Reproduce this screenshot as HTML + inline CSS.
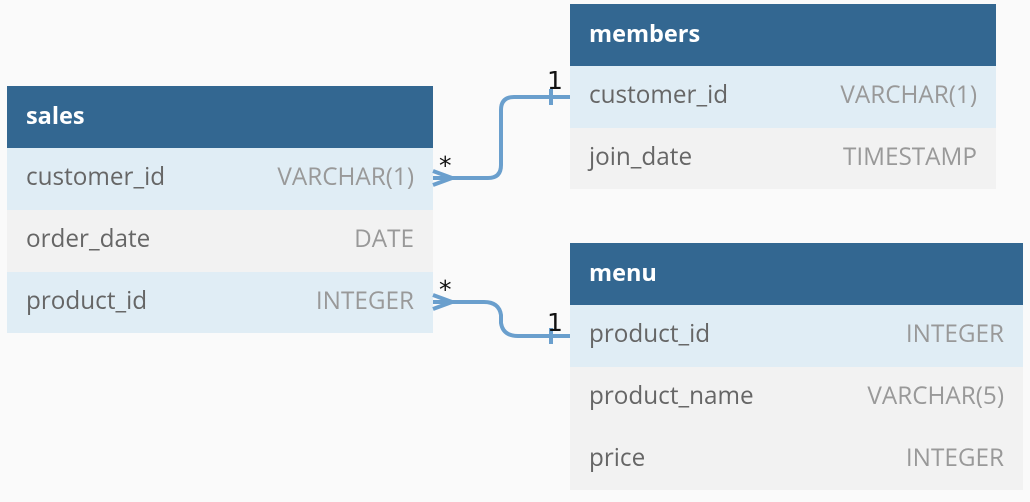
<!DOCTYPE html>
<html><head><meta charset="utf-8"><style>
body{margin:0;width:1030px;height:502px;background:#fafafa;position:relative;overflow:hidden;font-family:"Open Sans","DejaVu Sans","Liberation Sans",sans-serif}
.t{position:absolute}
.h{background:#336791;color:#fff;font-weight:bold;font-size:23.5px;height:62px;line-height:58px;padding-left:19px}
.r{height:62px;line-height:58px;font-size:24.3px;color:#666;padding:0 19px;display:flex;justify-content:space-between}
.r span:last-child{color:#999}
.b{background:#e0edf5}.g{background:#f2f2f2}
svg{position:absolute;left:0;top:0}
</style></head><body>
<div class="t" style="left:7px;top:86px;width:426px">
<div class="h">sales</div>
<div class="r b"><span>customer_id</span><span>VARCHAR(1)</span></div>
<div class="r g"><span>order_date</span><span>DATE</span></div>
<div class="r b" style="height:61px"><span>product_id</span><span>INTEGER</span></div>
</div>
<div class="t" style="left:570px;top:4px;width:426px">
<div class="h">members</div>
<div class="r b"><span>customer_id</span><span>VARCHAR(1)</span></div>
<div class="r g" style="height:61px"><span>join_date</span><span>TIMESTAMP</span></div>
</div>
<div class="t" style="left:570px;top:243px;width:453px">
<div class="h">menu</div>
<div class="r b"><span>product_id</span><span>INTEGER</span></div>
<div class="r g"><span>product_name</span><span>VARCHAR(5)</span></div>
<div class="r g" style="height:61px"><span>price</span><span>INTEGER</span></div>
</div>
<svg width="1030" height="502" fill="none" stroke="#6a9fcd" stroke-width="4">
<path d="M433 178 H488 Q501 178 501 165 V110 Q501 97 514 97 H570"/>
<path d="M433 171 L452 178 L433 185"/>
<path d="M551 89 V105"/>
<path d="M433 302 H484 Q499 302 501 315 V323 Q503 336 518 336 H570"/>
<path d="M433 295 L452 302 L433 309"/>
<path d="M551 328 V344"/>
<g stroke="none" fill="#111" font-family="DejaVu Sans,sans-serif" font-size="25">
<text x="439" y="174">*</text><text x="439" y="298">*</text>
<text x="547" y="89">1</text><text x="547" y="331">1</text>
</g>
</svg>
</body></html>
